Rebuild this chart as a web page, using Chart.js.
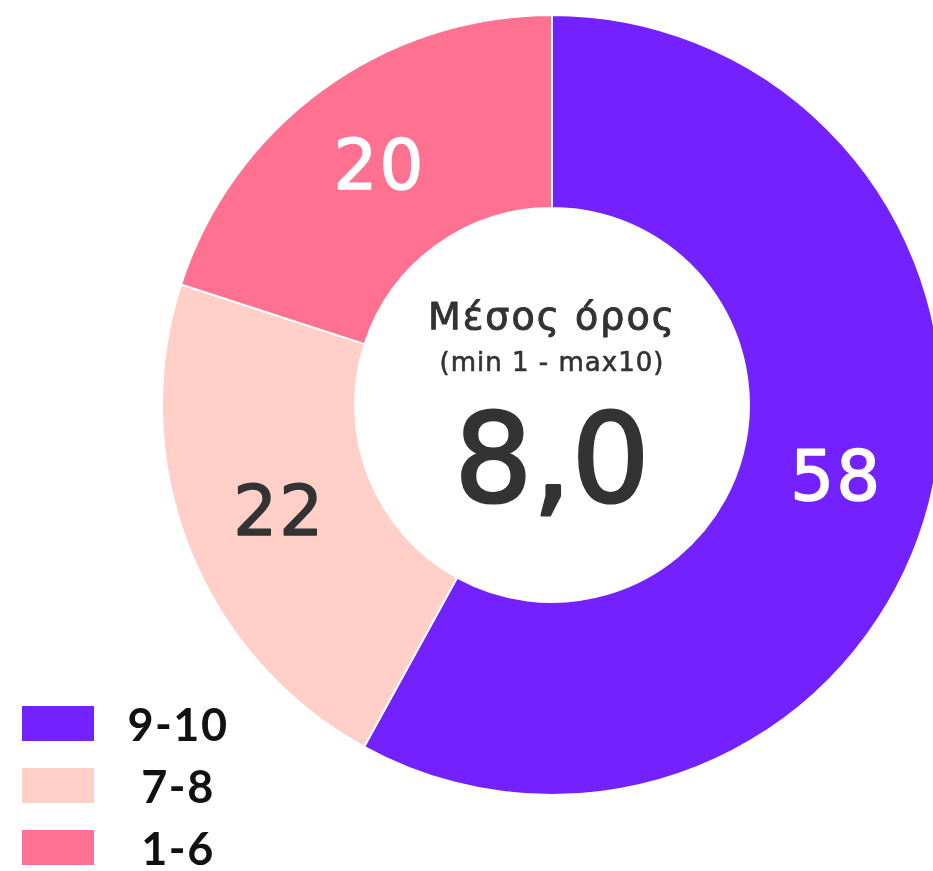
<!DOCTYPE html>
<html>
<head>
<meta charset="utf-8">
<title>Μέσος όρος</title>
<script src="https://cdn.jsdelivr.net/npm/chart.js@4"></script>
<style>
  html, body { margin: 0; padding: 0; background: #fff; width: 933px; height: 871px; overflow: hidden; }
  #wrap { position: absolute; left: 161px; top: 14px; width: 782px; height: 782px; }
  #legend { position: absolute; left: 22px; top: 706px; font-family: Lato, sans-serif; }
  .row { position: relative; height: 62px; }
  .box { position: absolute; left: 0; top: 0; width: 72px; height: 35px; }
  .lbl { position: absolute; left: 98px; width: 116px; top: -8px; text-align: center; font-size: 45px; font-weight: 700; letter-spacing: 1.5px; color: #111; line-height: 52px; }
</style>
</head>
<body>
<div id="wrap"><canvas id="myChart" width="782" height="782"></canvas></div>
<div id="legend"></div>
<script>
var labels = ["9-10", "7-8", "1-6"];
var values = [58, 22, 20];
var colors = ["#7321FF", "#FFCFC8", "#FF7190"];
var valueColors = ["#ffffff", "#333333", "#ffffff"];
var centerTitle = "Μέσος όρος";
var centerSub = "(min 1 - max10)";
var centerValue = "8,0";

// legend
var lg = document.getElementById("legend");
labels.forEach(function (l, i) {
  var r = document.createElement("div");
  r.className = "row";
  r.innerHTML = '<div class="box" style="background:' + colors[i] + '"></div><div class="lbl">' + l + '</div>';
  lg.appendChild(r);
});

// fill + thin stroke so the text looks a bit heavier
function heavyText(ctx, txt, x, y, color, w) {
  ctx.fillStyle = color;
  ctx.strokeStyle = color;
  ctx.lineWidth = w;
  ctx.lineJoin = "round";
  ctx.fillText(txt, x, y);
  if (w > 0) ctx.strokeText(txt, x, y);
}

var textPlugin = {
  id: "texts",
  afterDatasetsDraw: function (chart) {
    var ctx = chart.ctx;
    var meta = chart.getDatasetMeta(0);
    ctx.save();
    ctx.textAlign = "center";
    ctx.textBaseline = "middle";
    ctx.font = "69px 'DejaVu Sans', sans-serif";
    ctx.letterSpacing = "2px";
    meta.data.forEach(function (arc, i) {
      var p = arc.tooltipPosition();
      heavyText(ctx, String(values[i]), p.x, p.y + 4, valueColors[i], 1.5);
    });
    var cx = (chart.chartArea.left + chart.chartArea.right) / 2;
    var cy = (chart.chartArea.top + chart.chartArea.bottom) / 2;
    ctx.font = "38px 'DejaVu Sans', sans-serif";
    ctx.letterSpacing = "2px";
    heavyText(ctx, centerTitle, cx, cy - 86, "#333333", 1);
    ctx.font = "26px 'DejaVu Sans', sans-serif";
    ctx.letterSpacing = "1px";
    heavyText(ctx, centerSub, cx, cy - 41, "#333333", 0.6);
    ctx.font = "123px 'DejaVu Sans', sans-serif";
    ctx.letterSpacing = "0px";
    heavyText(ctx, centerValue, cx, cy + 64, "#333333", 3);
    ctx.restore();
  }
};

var chart = new Chart(document.getElementById("myChart").getContext("2d"), {
  type: "doughnut",
  data: {
    labels: labels,
    datasets: [{
      data: values,
      backgroundColor: colors,
      borderColor: "#ffffff",
      borderWidth: 2,
      hoverOffset: 0
    }]
  },
  options: {
    responsive: false,
    animation: false,
    cutout: "50.5%",
    layout: { padding: 0 },
    plugins: { legend: { display: false }, tooltip: { enabled: false } }
  },
  plugins: [textPlugin]
});
</script>
</body>
</html>
